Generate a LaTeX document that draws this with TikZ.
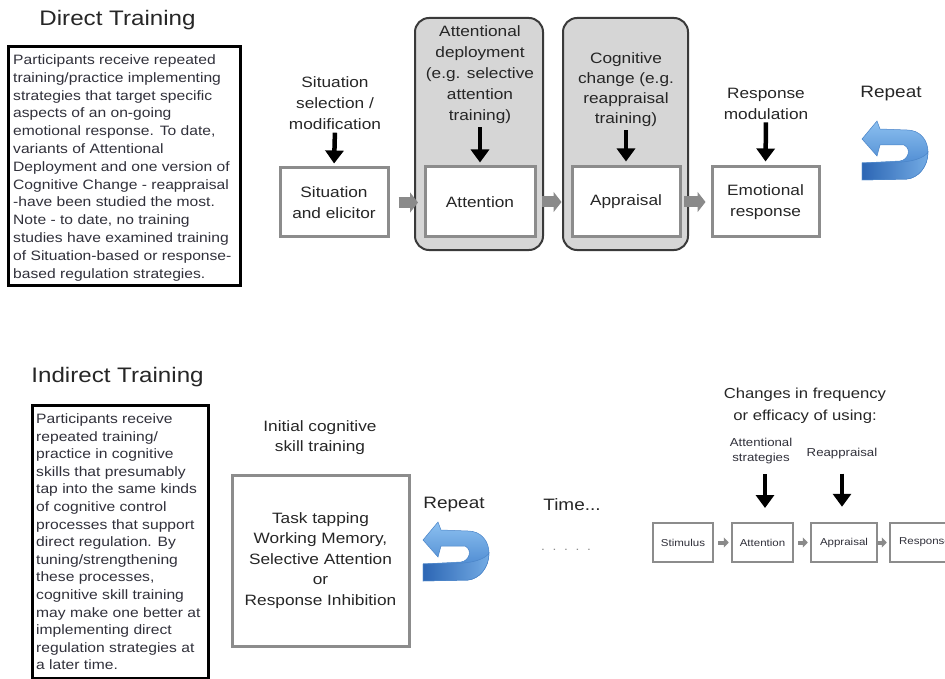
\documentclass[tikz,border=0pt]{standalone}
\usepackage{fontspec}
\setmainfont{Liberation Sans}[FakeStretch=1.15]
\usetikzlibrary{arrows.meta}
\definecolor{txt}{HTML}{262626}
\definecolor{bodyc}{HTML}{30303A}
\definecolor{boxgray}{HTML}{8C8C8C}
\definecolor{panel}{HTML}{D6D6D6}
\definecolor{outline}{HTML}{3A3A3A}
\definecolor{arrgray}{HTML}{8A8A8A}
\definecolor{rbA}{HTML}{8CC0F0}
\definecolor{rbB}{HTML}{3A7AC8}
\definecolor{rbC}{HTML}{4A84C8}
\definecolor{rbD}{HTML}{2C66B4}
\begin{document}
\begin{tikzpicture}[x=1pt,y=-1pt,
  title/.style={font=\fontsize{21}{24}\selectfont, text=txt, inner sep=0pt},
  lab/.style={font=\fontsize{15}{21}\selectfont, align=center, text=txt, inner sep=0pt},
  biglab/.style={font=\fontsize{16.5}{20}\selectfont, text=txt, inner sep=0pt},
  body/.style={font=\fontsize{13.6}{17.8}\selectfont, align=left, text=bodyc, inner sep=0pt, anchor=north west},
  wbox/.style={draw=boxgray, line width=3pt, fill=white, inner sep=0pt, align=center,
               font=\fontsize{15}{21}\selectfont, text=txt},
  sbox/.style={draw=boxgray, line width=2.5pt, fill=white, inner sep=0pt, minimum height=39pt,
               font=\fontsize{10}{12}\selectfont, text=bodyc},
  outerbox/.style={draw=outline, line width=2pt, fill=panel, rounded corners=14pt, inner sep=0pt},
  descbox/.style={draw=black, line width=3pt, inner sep=0pt},
  bigarrow/.style={line width=4.5pt, draw=black, -{Triangle[length=13pt,width=18pt]}},
  grayarrow/.style={line width=11pt, draw=arrgray, -{Triangle[length=8pt,width=20pt]}},
  smallarrow/.style={line width=4pt, draw=arrgray, -{Triangle[length=5pt,width=10pt]}},
  repeatarrow/.pic={
    \shade[top color=rbA, bottom color=rbB, draw=rbC, line width=0.5pt]
      (0,17) -- (15,-1) -- (18,7) -- (45,8)
      .. controls (58,8) and (66,18) .. (66,30)
      .. controls (66,45) and (56,56) .. (45,57)
      -- (0,58) -- (0,41) -- (38,39)
      .. controls (46,38) and (50,27) .. (42,23)
      -- (18,23) -- (15,34) -- cycle;
    \shade[left color=rbD, right color=rbA!70!rbB, draw=rbC, line width=0.5pt]
      (0,41) -- (40,40) .. controls (55,39) and (64,34) .. (66,30)
      .. controls (66,45) and (56,56) .. (45,57) -- (0,58) -- cycle;
  }]
\useasboundingbox (0,0) rectangle (945,679);
\clip (0,0) rectangle (945,679);

% ---------------- Direct training ----------------
\node[title] (dtitle) at (117.5,20) {Direct Training};
\node[descbox, minimum width=232pt, minimum height=238pt] (dbox) at (124,166) {};
\node[body] (dtext) at (13,54.5) {Participants receive repeated\\
training/practice implementing\\
strategies that target specific\\
aspects of an on-going\\
emotional response. To date,\\
variants of Attentional\\
Deployment and one version of\\
Cognitive Change - reappraisal\\
-have been studied the most.\\
Note - to date, no training\\
studies have examined training\\
of Situation-based or response-\\
based regulation strategies.};

\node[outerbox, minimum width=128pt, minimum height=232pt] (attout) at (479,134) {};
\node[outerbox, minimum width=125pt, minimum height=232pt] (cogout) at (625.5,134) {};

\node[wbox, minimum width=108pt, minimum height=69pt] (sit) at (334,202.5) {Situation\\and elicitor};
\node[wbox, minimum width=110pt, minimum height=70pt] (attin) at (480,202) {Attention};
\node[wbox, minimum width=108pt, minimum height=70pt] (cogin) at (626,202) {Appraisal};
\node[wbox, minimum width=107pt, minimum height=70pt] (emo) at (765.5,202) {Emotional\\response};

\node[lab] (sitlab) at (335,103) {Situation\\selection /\\modification};
\node[lab] (attlab) at (480,75) {Attentional\\deployment\\(e.g. selective\\attention\\training)};
\node[lab, font=\fontsize{15}{20}\selectfont] (coglab) at (626,90) {Cognitive\\change (e.g.\\reappraisal\\training)};
\node[lab] (resplab) at (766,103.5) {Response\\modulation};

\draw[bigarrow, shorten <=3pt, shorten >=3pt] (sitlab.south) -- (sit.north);
\draw[bigarrow, shorten <=3pt, shorten >=3pt] (attlab.south) -- (attin.north);
\draw[bigarrow, shorten <=3pt, shorten >=4pt] (coglab.south) -- (cogin.north);
\draw[bigarrow, shorten <=3pt, shorten >=4pt] (resplab.south) -- (emo.north);

\draw[grayarrow, shorten <=9pt, shorten >=-4pt] (sit.east) -- (sit.east -| attout.west);
\draw[grayarrow, shorten <=-2pt, shorten >=9pt] (attin.east -| attout.east) -- (cogin.west);
\draw[grayarrow, shorten <=-5pt, shorten >=5pt] (cogin.east -| cogout.east) -- (emo.west);

\node[biglab] (rep1) at (891,94) {Repeat};
\pic at (862,122) {repeatarrow};

% ---------------- Indirect training ----------------
\node[title] (ititle) at (117.5,377) {Indirect Training};
\node[descbox, minimum width=176pt, minimum height=273pt] (ibox) at (120,541.5) {};
\node[body, font=\fontsize{13.6}{17.6}\selectfont] (itext) at (36,413.5) {Participants receive\\
repeated training/\\
practice in cognitive\\
skills that presumably\\
tap into the same kinds\\
of cognitive control\\
processes that support\\
direct regulation. By\\
tuning/strengthening\\
these processes,\\
cognitive skill training\\
may make one better at\\
implementing direct\\
regulation strategies at\\
a later time.};

\node[lab, font=\fontsize{15}{20}\selectfont] (initlab) at (320,438) {Initial cognitive\\skill training};
\node[wbox, minimum width=177pt, minimum height=171pt, font=\fontsize{15}{20.5}\selectfont] (task) at (320.5,560.5)
  {Task tapping\\Working Memory,\\Selective Attention\\or\\Response Inhibition};

\node[biglab] (rep2) at (454,505) {Repeat};
\pic at (423,523) {repeatarrow};
\node[biglab] (time) at (572,505) {Time...};
\node[font=\fontsize{12}{14}\selectfont, text=boxgray, inner sep=0pt] (dots) at (566,550) {.\ \ .\ \ .\ \ .\ \ .};

\node[lab, font=\fontsize{14.5}{22}\selectfont] (chg) at (805,406) {Changes in frequency\\or efficacy of using:};
\node[lab, font=\fontsize{11.5}{15.5}\selectfont, text=bodyc] (attstrat) at (761,451) {Attentional\\strategies};
\node[lab, font=\fontsize{11.5}{14}\selectfont, text=bodyc] (reapp) at (842,454) {Reappraisal};

\node[sbox, minimum width=60pt] (stim) at (683,542.5) {Stimulus};
\node[sbox, minimum width=61pt] (attS) at (762.5,542.5) {Attention};
\node[sbox, minimum width=66pt] (apprS) at (844,542.5) {Appraisal};
\node[sbox, minimum width=70pt] (respS) at (925,542.5) {Response};

\draw[bigarrow, shorten <=10pt, shorten >=15pt] (attstrat.south -| 765,0) -- (765,523);
\draw[bigarrow, shorten <=14pt, shorten >=15pt] (reapp.south) -- (reapp.south |- apprS.north);

\draw[smallarrow, shorten <=4pt, shorten >=2pt] (stim.east) -- (attS.west);
\draw[smallarrow, shorten <=4pt, shorten >=2pt] (attS.east) -- (apprS.west);
\draw[smallarrow, shorten <=-1pt, shorten >=2pt] (apprS.east) -- (respS.west);
\end{tikzpicture}
\end{document}
